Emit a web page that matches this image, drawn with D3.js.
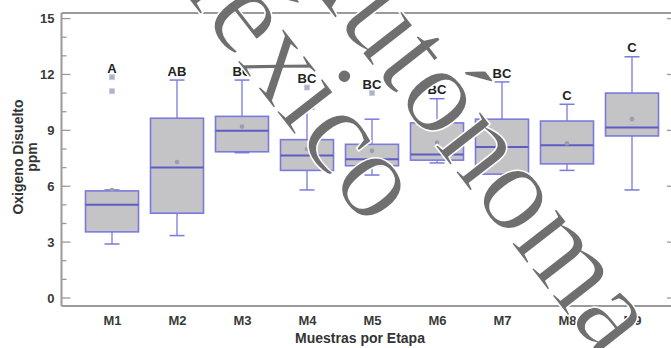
<!DOCTYPE html>
<html>
<head>
<meta charset="utf-8">
<script src="https://cdn.jsdelivr.net/npm/d3@7"></script>
<style>
  html, body { margin: 0; padding: 0; background: #fff; }
  svg { display: block; }
</style>
</head>
<body>
<svg id="chart" width="671" height="348"></svg>
<script>
// Dissolved oxygen (ppm) per sampling stage
const categories = ["M1", "M2", "M3", "M4", "M5", "M6", "M7", "M8", "M9"];
const whiskerLow  = [2.9, 3.35, 7.8, 5.8, 6.6, 7.25, 6.15, 6.85, 5.8];
const quartile1   = [3.55, 4.55, 7.85, 6.85, 7.1, 7.4, 6.65, 7.2, 8.7];
const medians     = [5.0, 7.0, 8.98, 7.65, 7.45, 7.7, 8.1, 8.2, 9.15];
const quartile3   = [5.75, 9.65, 9.75, 8.5, 8.25, 9.4, 9.6, 9.5, 11.0];
const whiskerHigh = [5.8, 11.7, 11.7, 10.15, 9.6, 10.7, 11.6, 10.4, 12.95];
const means       = [5.8, 7.3, 9.2, 8.0, 7.9, 8.35, 8.4, 8.3, 9.6];
const outliers    = [[11.1, 11.85], [], [], [11.3], [11.0], [], [], [], []];
const groupLetters = ["A", "AB", "BC", "BC", "BC", "BC", "BC", "C", "C"];
const yTicks = [0, 3, 6, 9, 12, 15];
const yMinorTicks = d3.range(0, 16, 1);

const svg = d3.select("#chart");

const x = d3.scalePoint().domain(categories).range([112, 632]);
const y = d3.scaleLinear().domain([-0.43, 15.3]).range([306, 13]);

const frame = "#9a9a9a";
const boxStroke = "#7a7ade";
const boxFill = "#c4c4c6";
const sans = "Liberation Sans, Arial, sans-serif";

// plot frame: top border and bottom axis
svg.append("line").attr("x1", 61.5).attr("x2", 671).attr("y1", y(15.3)).attr("y2", y(15.3))
  .attr("stroke", frame).attr("stroke-width", 2);
svg.append("line").attr("x1", 61.5).attr("x2", 671).attr("y1", y(-0.43)).attr("y2", y(-0.43))
  .attr("stroke", frame).attr("stroke-width", 2);

// left axis with inward ticks
const gl = svg.append("g").attr("transform", "translate(61.5,0)");
gl.append("line").attr("y1", y(-0.43)).attr("y2", y(15.3)).attr("stroke", frame).attr("stroke-width", 2);
gl.selectAll("line.tick").data(yMinorTicks).join("line").attr("class", "tick")
  .attr("x1", 0).attr("x2", d => yTicks.includes(d) ? 9 : 5)
  .attr("y1", d => y(d)).attr("y2", d => y(d))
  .attr("stroke", frame).attr("stroke-width", 1.3);
gl.selectAll("text").data(yTicks).join("text")
  .attr("x", -7).attr("y", d => y(d)).attr("dy", "0.36em")
  .attr("text-anchor", "end")
  .attr("font-family", sans)
  .attr("font-weight", "bold").attr("font-size", 13).attr("fill", "#3a3a3a")
  .text(d => d);

// right side ticks
svg.append("g").selectAll("line").data(yTicks).join("line")
  .attr("x1", 667).attr("x2", 671).attr("y1", d => y(d)).attr("y2", d => y(d))
  .attr("stroke", frame).attr("stroke-width", 1.3);

// category labels
const bottomAxis = d3.axisBottom(x).tickSize(0).tickPadding(10);
const gb = svg.append("g").attr("transform", `translate(0,${y(-0.43)})`).call(bottomAxis);
gb.select(".domain").remove();
gb.selectAll("text")
  .attr("font-family", sans)
  .attr("font-weight", "bold").attr("font-size", 13).attr("fill", "#3a3a3a");

// axis titles
svg.append("text").attr("x", 360).attr("y", 343).attr("text-anchor", "middle")
  .attr("font-family", sans)
  .attr("font-weight", "bold").attr("font-size", 14).attr("fill", "#333")
  .text("Muestras por Etapa");
const yt = svg.append("g").attr("transform", "translate(23,157) rotate(-90)");
yt.append("text").attr("x", 0).attr("y", 0).attr("text-anchor", "middle")
  .attr("font-family", sans)
  .attr("font-weight", "bold").attr("font-size", 14).attr("fill", "#333")
  .text("Oxigeno Disuelto");
yt.append("text").attr("x", 0).attr("y", 14).attr("text-anchor", "middle")
  .attr("font-family", sans)
  .attr("font-weight", "bold").attr("font-size", 14).attr("fill", "#333")
  .text("ppm");

// box plots
const half = 26.5, capHalf = 7.5;
const groups = categories.map((c, i) => ({
  c, lo: whiskerLow[i], q1: quartile1[i], med: medians[i], q3: quartile3[i],
  hi: whiskerHigh[i], mean: means[i], out: outliers[i], letter: groupLetters[i]
}));

const g = svg.append("g").selectAll("g").data(groups).join("g")
  .attr("transform", d => `translate(${x(d.c)},0)`);

// whiskers
g.append("line").attr("x1", 0).attr("x2", 0).attr("y1", d => y(d.hi)).attr("y2", d => y(d.q3))
  .attr("stroke", boxStroke).attr("stroke-width", 1.3);
g.append("line").attr("x1", 0).attr("x2", 0).attr("y1", d => y(d.q1)).attr("y2", d => y(d.lo))
  .attr("stroke", boxStroke).attr("stroke-width", 1.3);
g.append("line").attr("x1", -capHalf).attr("x2", capHalf).attr("y1", d => y(d.hi)).attr("y2", d => y(d.hi))
  .attr("stroke", boxStroke).attr("stroke-width", 1.5);
g.append("line").attr("x1", -capHalf).attr("x2", capHalf).attr("y1", d => y(d.lo)).attr("y2", d => y(d.lo))
  .attr("stroke", boxStroke).attr("stroke-width", 1.5);

// boxes
g.append("rect").attr("x", -half).attr("width", half * 2)
  .attr("y", d => y(d.q3)).attr("height", d => y(d.q1) - y(d.q3))
  .attr("fill", boxFill).attr("stroke", boxStroke).attr("stroke-width", 1.6);

// medians
g.append("line").attr("x1", -half).attr("x2", half).attr("y1", d => y(d.med)).attr("y2", d => y(d.med))
  .attr("stroke", "#5c5cc4").attr("stroke-width", 2);

// means
g.append("circle").attr("cx", 0).attr("cy", d => y(d.mean)).attr("r", 2.3)
  .attr("fill", "#9c9cae");

// outliers
g.selectAll("rect.out").data(d => d.out).join("rect").attr("class", "out")
  .attr("x", -2.5).attr("width", 5).attr("y", v => y(v) - 2.5).attr("height", 5)
  .attr("fill", "#b0b0c4").attr("stroke", "#c8c8e6").attr("stroke-width", 0.8);

// significance letters above each group
g.append("text").attr("x", 0)
  .attr("y", d => y(d3.max([d.hi, ...d.out])) - 9).attr("dy", "0.36em")
  .attr("text-anchor", "middle")
  .attr("font-family", sans)
  .attr("font-weight", "bold").attr("font-size", 13).attr("fill", "#222")
  .text(d => d.letter);

// diagonal institutional watermark
const wm = svg.append("g")
  .attr("font-family", "Liberation Serif, Times New Roman, serif")
  .attr("font-size", 124).attr("fill", "#6f6f6f")
  .attr("stroke", "#ffffff").attr("stroke-width", 1.5)
  .attr("text-anchor", "end");
wm.append("text").attr("transform", "translate(603,361) rotate(52)").text("Autónoma");
wm.append("text").attr("transform", "translate(368,229) rotate(52)").text("México");
</script>
</body>
</html>
